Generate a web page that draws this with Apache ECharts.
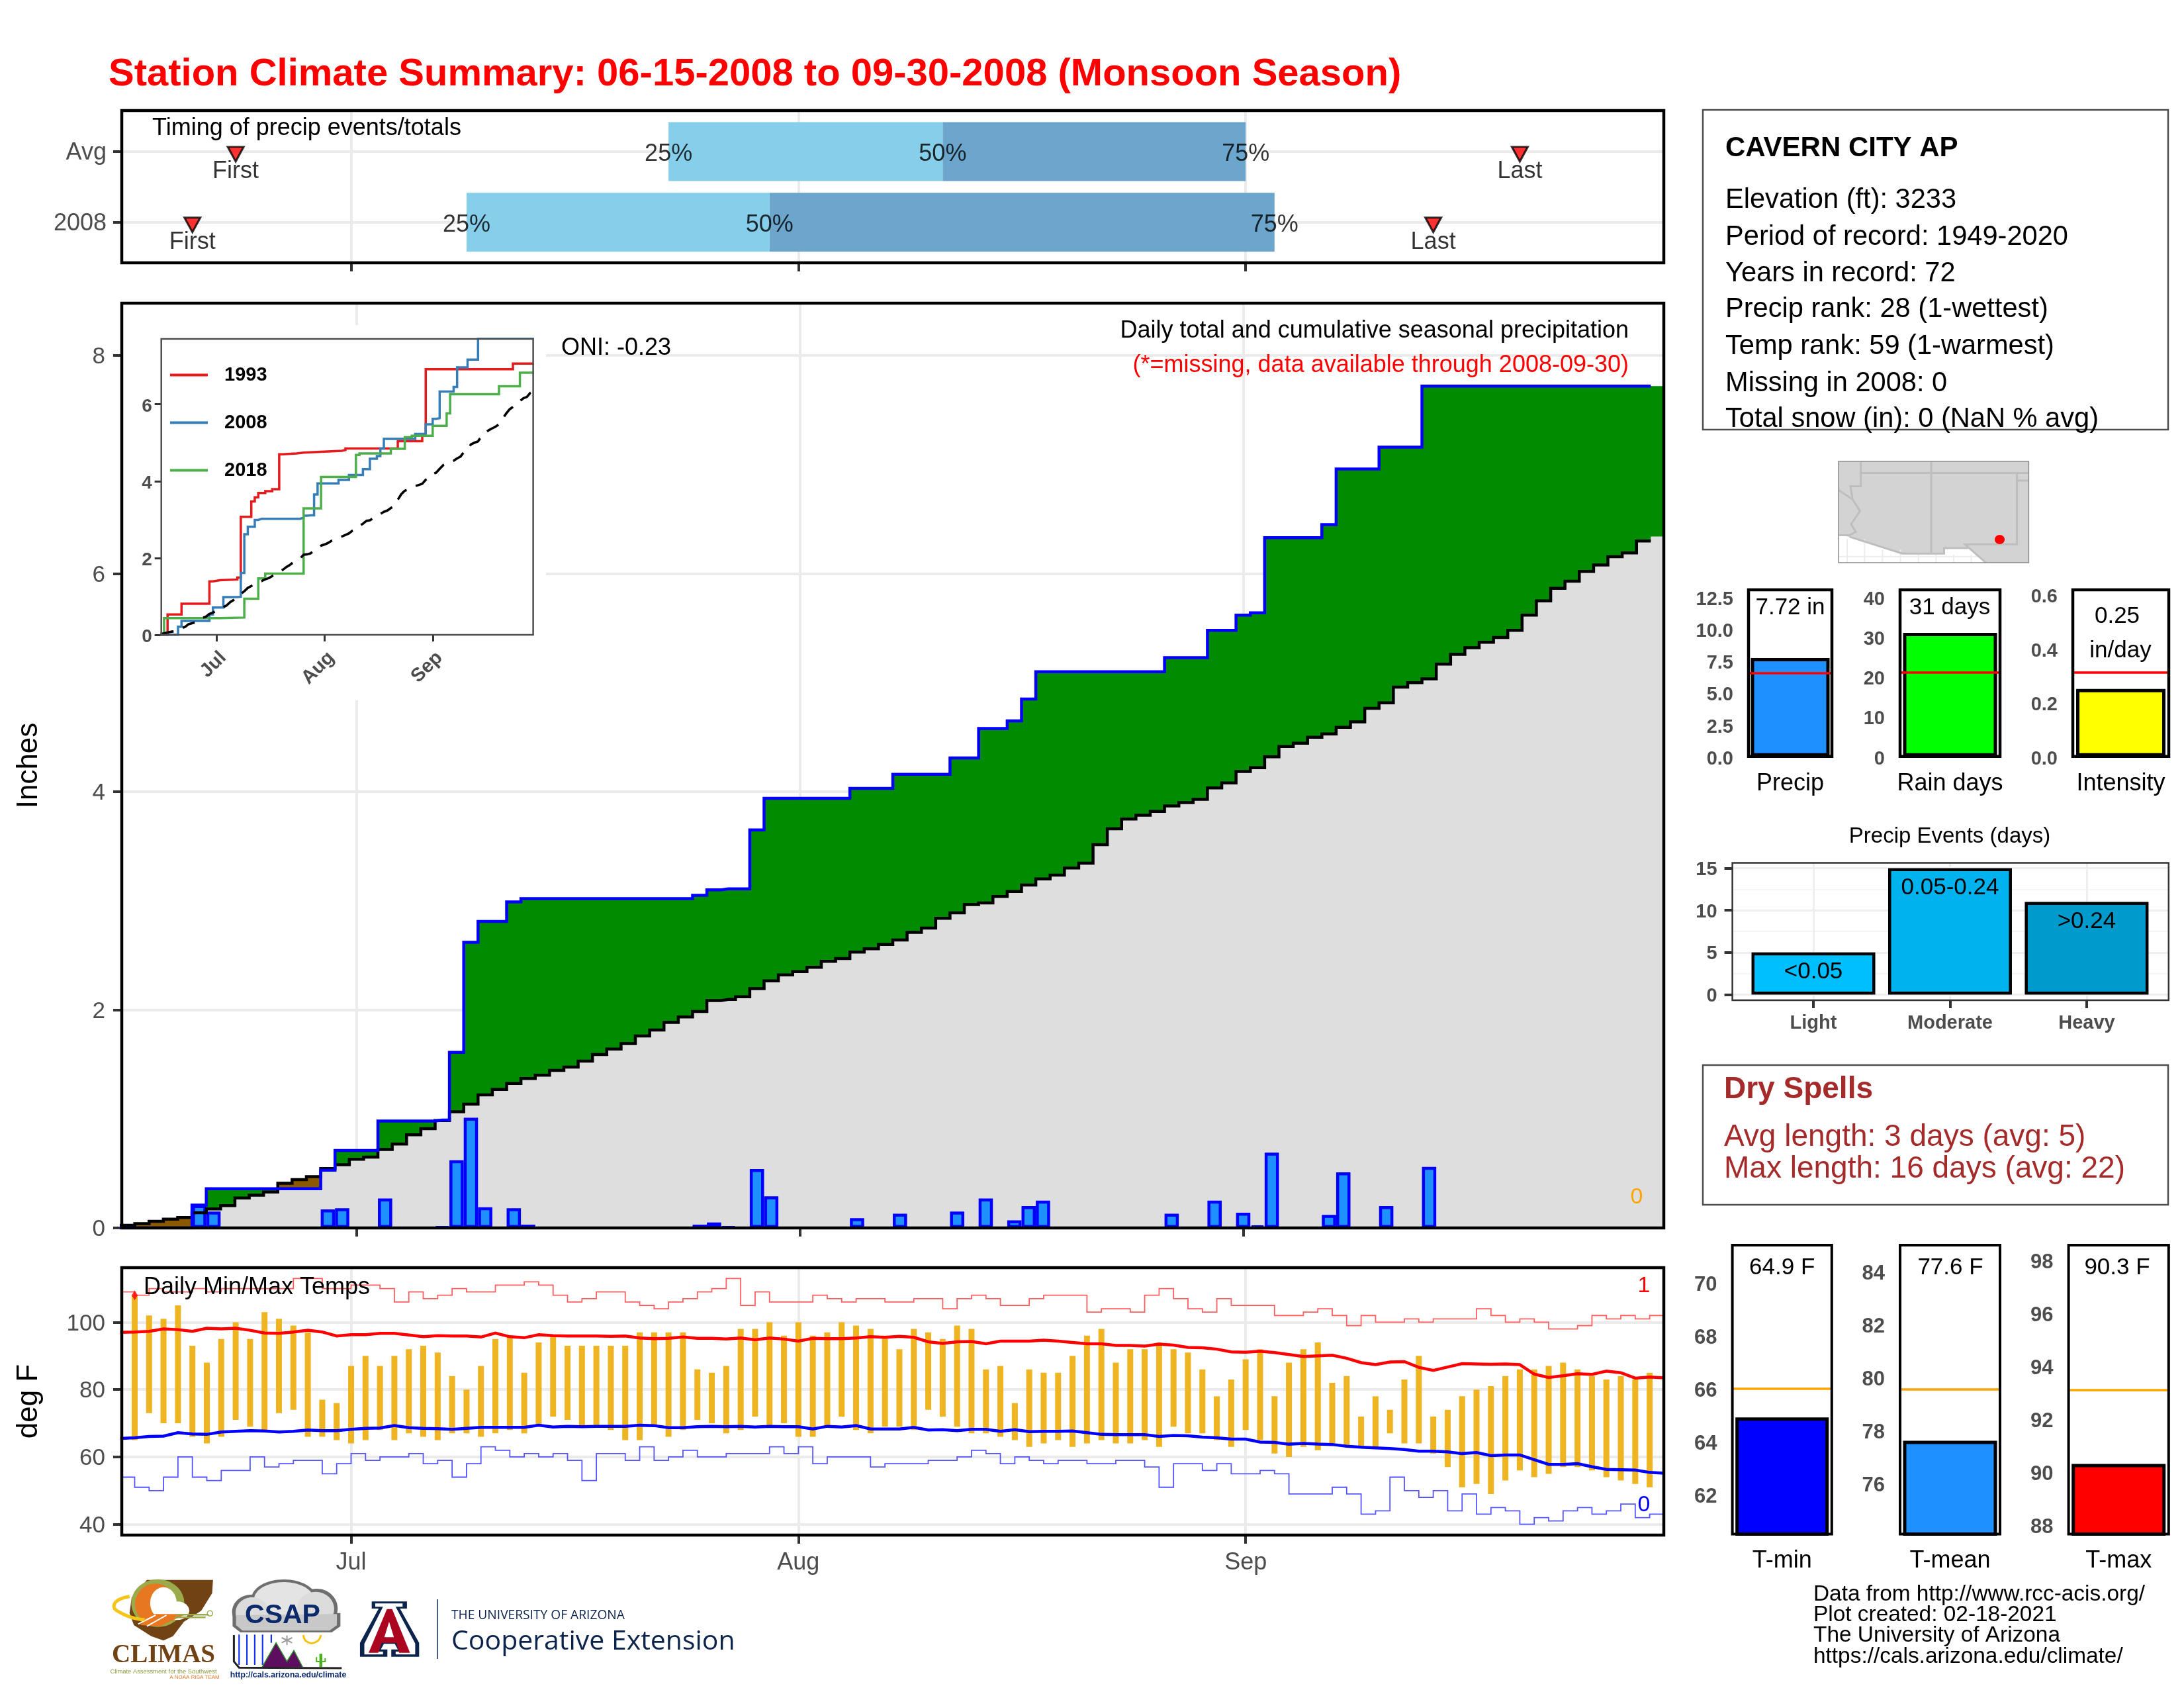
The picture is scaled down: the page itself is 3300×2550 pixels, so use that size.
<!DOCTYPE html>
<html>
<head>
<meta charset="utf-8">
<title>Station Climate Summary</title>
<script src="https://cdn.jsdelivr.net/npm/echarts@6/dist/echarts.min.js"></script>
<style>
  html, body { margin: 0; padding: 0; background: #fff; }
  #chart { width: 3300px; height: 2550px; }
</style>
</head>
<body>
<div id="chart"></div>
<script>
// day numbers count from Jun 15 = 0
const monthDays = [16, 47, 78]
const monthLabels = ['Jul', 'Aug', 'Sep']

// timing panel, rows bottom to top
const timingRows = ['2008', 'Avg']
const firstDay = [5, 8]
const lastDay = [91, 97]
const quart25 = [24, 38]
const quart50 = [45, 57]
const quart75 = [80, 78]

// daily precip (inches), only the wet days
const wetDays = [5, 6, 14, 15, 18, 22, 23, 24, 25, 27, 28, 40, 41, 42, 44, 45, 51, 54, 58, 60, 62, 63, 64, 73, 76, 78, 79, 80, 84, 85, 88, 91]
const wetAmounts = [0.21, 0.15, 0.17, 0.18, 0.27, 0.01, 0.62, 1.01, 0.19, 0.18, 0.03, 0.03, 0.05, 0.01, 0.54, 0.29, 0.09, 0.13, 0.15, 0.27, 0.07, 0.2, 0.25, 0.13, 0.25, 0.14, 0.02, 0.69, 0.12, 0.51, 0.2, 0.56]

// average cumulative precip, day 0 to 107
const avgCumPrecip = [
  0.025, 0.04, 0.06, 0.08, 0.095, 0.14, 0.175, 0.205, 0.275, 0.3,
  0.33, 0.41, 0.443, 0.47, 0.545, 0.58, 0.63, 0.65, 0.72, 0.77,
  0.855, 0.91, 0.985, 1.065, 1.135, 1.22, 1.27, 1.325, 1.37, 1.4,
  1.445, 1.475, 1.53, 1.59, 1.64, 1.69, 1.76, 1.815, 1.885, 1.935,
  1.985, 2.085, 2.095, 2.12, 2.195, 2.265, 2.32, 2.35, 2.39, 2.445,
  2.47, 2.53, 2.56, 2.6, 2.64, 2.71, 2.75, 2.84, 2.89, 2.965,
  2.98, 3.04, 3.085, 3.145, 3.2, 3.235, 3.3, 3.345, 3.515, 3.66,
  3.75, 3.785, 3.82, 3.87, 3.9, 3.93, 4.035, 4.08, 4.185, 4.22,
  4.32, 4.415, 4.445, 4.5, 4.53, 4.59, 4.64, 4.765, 4.815, 4.96,
  5, 5.035, 5.17, 5.26, 5.32, 5.37, 5.415, 5.48, 5.62, 5.75,
  5.865, 5.93, 6.02, 6.08, 6.155, 6.19, 6.3, 6.34
]

// inset comparison years
const years = ['1993', '2008', '2018']
const days1993 = [0, 2, 6, 14, 15, 17, 22, 23, 26, 27, 28, 30, 32, 34, 35, 39, 41, 48, 52, 53, 68, 75, 76, 101, 107]
const totals1993 = [0, 0.53, 0.81, 1.39, 1.42, 1.44, 1.49, 3.07, 3.47, 3.58, 3.69, 3.74, 3.79, 4.7, 4.72, 4.74, 4.77, 4.79, 4.81, 4.85, 5.04, 5.2, 6.91, 7.06, 7.06]
const days2018 = [0, 1, 17, 24, 28, 30, 41, 46, 56, 57, 66, 70, 72, 78, 82, 83, 97, 103, 107]
const totals2018 = [0, 0.435, 0.45, 0.94, 1.47, 1.595, 3.29, 4.11, 4.68, 4.72, 4.84, 5.14, 5.18, 5.44, 5.76, 6.26, 6.47, 6.82, 6.82]

// daily temps, day 1 to 106
const dailyTmax = [
  108, 102, 101, 105, 93, 88, 95, 100, 95, 103,
  101, 99, 97, 77, 76, 87, 90, 87, 90, 92,
  93, 91, 84, 80, 87, 95, 96, 85, 94, 96,
  93, 93, 93, 93, 93, 97, 97, 97, 97, 86,
  85, 87, 98, 98, 100, 96, 100, 96, 97, 100,
  99, 98, 96, 92, 98, 97, 95, 99, 98, 86,
  87, 76, 86, 85, 85, 90, 96, 98, 88, 92,
  92, 94, 92, 91, 86, 78, 83, 89, 92, 78,
  88, 92, 94, 82, 84, 72, 78, 74, 83, 90,
  72, 74, 78, 80, 81, 84, 86, 86, 87, 88,
  86, 84, 83, 84, 83, 85
]
const dailyTmin = [
  65, 73, 70, 70, 66, 64, 66, 71, 69, 68,
  73, 74, 66, 66, 65, 64, 65, 68, 65, 67,
  66, 65, 67, 67, 66, 67, 68, 67, 69, 72,
  71, 69, 69, 68, 65, 65, 69, 66, 68, 71,
  70, 67, 68, 72, 69, 70, 66, 66, 69, 72,
  68, 67, 69, 69, 68, 74, 72, 69, 67, 67,
  66, 65, 63, 64, 65, 63, 64, 65, 64, 64,
  65, 63, 69, 67, 67, 65, 63, 68, 65, 61,
  60, 63, 62, 64, 63, 63, 63, 67, 64, 64,
  61, 57, 51, 52, 49, 53, 56, 54, 55, 57,
  57, 56, 54, 53, 52, 51
]

// record high and low for each day, day 0 to 106
const recordMax = [
  109, 108, 110, 109, 109, 110, 109, 110, 110, 110,
  110, 110, 113, 113, 110, 110, 111, 111, 110, 106,
  109, 107, 108, 110, 109, 109, 111, 111, 112, 111,
  108, 106, 107, 109, 109, 106, 105, 104, 106, 107,
  109, 110, 113, 105, 109, 106, 106, 106, 108, 107,
  106, 107, 107, 106, 106, 107, 107, 104, 107, 108,
  107, 105, 105, 107, 108, 108, 108, 103, 104, 104,
  103, 108, 110, 107, 104, 103, 107, 105, 105, 105,
  102, 102, 103, 104, 102, 99, 102, 100, 100, 101,
  100, 101, 101, 101, 104, 102, 100, 101, 100, 98,
  98, 99, 102, 101, 102, 101, 102
]
const recordMin = [
  54, 51, 50, 54, 60, 54, 53, 56, 56, 60,
  57, 58, 59, 59, 55, 58, 61, 59, 60, 60,
  61, 58, 59, 54, 58, 63, 62, 60, 61, 60,
  61, 59, 53, 61, 61, 59, 63, 59, 60, 62,
  60, 60, 61, 61, 61, 63, 61, 63, 58, 60,
  60, 60, 57, 58, 58, 58, 59, 59, 60, 62,
  61, 58, 60, 59, 58, 59, 59, 58, 58, 59,
  59, 57, 51, 58, 58, 56, 58, 55, 55, 56,
  55, 49, 49, 49, 51, 49, 43, 44, 54, 50,
  48, 50, 44, 49, 43, 45, 44, 40, 42, 41,
  44, 45, 43, 44, 46, 42, 43
]

// long term daily means, day 0 to 107
const normalMax = [
  97, 97.1, 97.3, 98, 97.8, 97.3, 98.2, 98, 98.2, 97.6,
  96.8, 96.7, 97.1, 97.6, 97.1, 95.9, 96.3, 96.3, 96.7, 96.7,
  96.2, 95.7, 96, 95.9, 95.9, 95.6, 96.8, 95.7, 95.4, 96.3,
  96, 95.9, 95.9, 95.9, 95.8, 95.9, 95.3, 95.1, 95.2, 95.6,
  95.2, 95.2, 95, 95.3, 94.8, 95.3, 95, 94.4, 95.2, 95.1,
  95.1, 95.3, 95.7, 95.5, 95.8, 95.5, 94.2, 93.7, 94.2, 94.3,
  93.6, 94.4, 94.4, 94.4, 94.7, 94.4, 94, 93.6, 93.6, 93.1,
  93.1, 92.9, 93.5, 93.2, 92.5, 92.4, 92, 91.2, 91.1, 91.4,
  91, 90.4, 89.8, 90, 90.2, 89.3, 88, 87.4, 88.2, 88.3,
  86.6, 85.7, 86.7, 87.7, 87.6, 87.5, 87.6, 87.4, 84.6, 83.6,
  84.1, 84.7, 84.5, 85.5, 85, 83.4, 83.7, 83.5
]
const normalMin = [
  65.5, 65.7, 66.1, 66.2, 67.2, 66.8, 66.7, 67.4, 67.6, 67.8,
  67.7, 67.4, 67.6, 68, 67.8, 67.8, 68.2, 68.5, 68.6, 69.3,
  68.7, 68.5, 68.4, 68.2, 68.5, 68.8, 68.8, 68.8, 68.8, 69.4,
  68.9, 69.1, 69, 69.1, 69.1, 69.1, 69.4, 69.3, 68.7, 68.7,
  69, 69.1, 69, 69.1, 68.9, 69.1, 69, 69, 68.3, 69.1,
  68.9, 69.3, 68.3, 68.3, 68.3, 68.8, 68, 68.1, 67.8, 68.2,
  68.2, 67.6, 68.1, 67.5, 67.6, 67.6, 67.7, 67.2, 66.7, 66.6,
  66.6, 66.6, 66.1, 66.4, 66.3, 65.9, 65.7, 65.3, 65.3, 64.4,
  64.3, 63.8, 64, 63.8, 63.7, 63.2, 62.9, 62.7, 62.5, 62.2,
  61.7, 61.7, 61.5, 61, 61.3, 60.4, 60.6, 60.6, 59.2, 57.8,
  57.8, 58, 57.1, 56.3, 56.2, 56.1, 55.4, 55.2
]

// side panels
const precipNames = ['Precip', 'Rain days', 'Intensity']
const precipValues = [7.72, 31, 0.25]
const precipAverages = [6.56, 21, 0.31]
const precipLabels = ['7.72 in', '31 days', '0.25']
const eventNames = ['Light', 'Moderate', 'Heavy']
const eventCounts = [5, 15, 11]
const eventLabels = ['<0.05', '0.05-0.24', '>0.24']
const tempNames = ['T-min', 'T-mean', 'T-max']
const tempValues = [64.9, 77.6, 90.3]
const tempAverages = [65.98, 79.55, 93.1]
const tempLabels = ['64.9 F', '77.6 F', '90.3 F']
const stationLines = ['Elevation (ft): 3233', 'Period of record: 1949-2020', 'Years in record: 72', 'Precip rank: 28 (1-wettest)', 'Temp rank: 59 (1-warmest)', 'Missing in 2008: 0', 'Total snow (in): 0 (NaN % avg)']
const creditLines = ['Data from http://www.rcc-acis.org/', 'Plot created: 02-18-2021', 'The University of Arizona', 'https://cals.arizona.edu/climate/']

const FONT = '"Liberation Sans", Arial, sans-serif'
const GREY = '#4D4D4D'
const GRID_LINE = '#EBEBEB'

// build series data
const allDays = avgCumPrecip.map((_, d) => d)
let running = 0
const cumPrecip = allDays.map(d => {
  const i = wetDays.indexOf(d)
  if (i >= 0) running += wetAmounts[i]
  return +running.toFixed(2)
})
const pairs = (days, values) => days.map((d, i) => [d, values[i]])
const padded = values => [[-1, values[0]], ...values.map((v, d) => [d, v]), [108, values[values.length - 1]]]
const lowerFill = cumPrecip.map((c, d) => Math.min(c, avgCumPrecip[d]))
// the two step lines stop half a day before the end
const lineToEnd = values => [[-1, values[0]], ...values.slice(0, 107).map((v, d) => [d, v]), [106.5, values[106]]]
const withEnd = values => [...values.map((v, d) => [d, v]), [107, values[values.length - 1]]]

// an empty first line with a small lineHeight pushes a tick label down by lineHeight / 2
const nudged = (fmt = v => v) => v => '\n' + fmt(v)

const dayAxis = (gridIndex, min, max, extra = {}) => ({
  type: 'value', gridIndex, min, max,
  axisLine: { show: false, onZero: false },
  axisTick: { length: 13, customValues: monthDays, lineStyle: { color: '#333', width: 4 } },
  axisLabel: { show: false, customValues: monthDays, formatter: v => monthLabels[monthDays.indexOf(v)], color: GREY, fontFamily: FONT, fontSize: 35, margin: 24 },
  splitLine: { show: true, lineStyle: { color: GRID_LINE, width: 4 } },
  ...extra
})
const valueAxis = (gridIndex, min, max, ticks, extra = {}) => ({
  type: 'value', gridIndex, min, max,
  axisLine: { show: false, onZero: false },
  axisTick: { length: 13, customValues: ticks, lineStyle: { color: '#333', width: 4 } },
  axisLabel: { customValues: ticks, formatter: nudged(), lineHeight: 5, color: GREY, fontFamily: FONT, fontSize: 35, margin: 25 },
  splitLine: { show: true, lineStyle: { color: GRID_LINE, width: 4 } },
  ...extra
})
const line = (name, xAxisIndex, data, color, width, step, z, extra = {}) => ({
  name, type: 'line', xAxisIndex, yAxisIndex: xAxisIndex, data, step, z,
  showSymbol: false, symbol: 'none', silent: true,
  lineStyle: { color, width, join: 'miter' }, itemStyle: { color },
  ...extra
})
// areas are painted over each other, higher layers last
const areaLayer = (name, data, color) => ({
  name, type: 'line', xAxisIndex: 1, yAxisIndex: 1, data, step: 'middle', z: 2,
  showSymbol: false, symbol: 'none', silent: true,
  lineStyle: { width: 0 }, areaStyle: { color, opacity: 1 }
})

const grids = []
const xAxes = []
const yAxes = []
const series = []
const addGrid = (left, top, width, height) => grids.push({ left, top, width, height, show: false, outerBoundsMode: 'none' })

// 0: timing panel
addGrid(184, 167, 2330, 230)
xAxes.push(dayAxis(0, 0.106, 106.98))
yAxes.push(valueAxis(0, -0.574, 1.58, [0, 1], {
  axisLabel: { customValues: [0, 1], formatter: nudged(v => timingRows[v]), lineHeight: 5, color: GREY, fontFamily: FONT, fontSize: 36, margin: 23 }
}))
const timingBar = (data, color) => ({
  type: 'custom', xAxisIndex: 0, yAxisIndex: 0, data, z: 3, silent: true,
  encode: { x: [0, 1], y: 2 },
  renderItem: (params, api) => {
    const a = api.coord([api.value(0), api.value(2)])
    const b = api.coord([api.value(1), api.value(2)])
    return { type: 'rect', shape: { x: a[0], y: a[1] - 44.5, width: b[0] - a[0], height: 89 }, style: { fill: color } }
  }
})
series.push(timingBar(timingRows.map((_, i) => [quart25[i], quart50[i], i]), '#87CEEB'))
series.push(timingBar(timingRows.map((_, i) => [quart50[i], quart75[i], i]), '#6CA6CD'))
const timingText = (quarts, text) => ({
  type: 'scatter', xAxisIndex: 0, yAxisIndex: 0, z: 5, silent: true, symbolSize: 1,
  itemStyle: { color: 'transparent' },
  data: quarts.map((d, i) => [d, i]),
  label: { show: true, position: 'inside', formatter: text, color: '#000', fontFamily: FONT, fontSize: 36, offset: [0, 4] }
})
series.push(timingText(quart25, '25%'), timingText(quart50, '50%'), timingText(quart75, '75%'))
const timingMark = (days, text) => ({
  type: 'scatter', xAxisIndex: 0, yAxisIndex: 0, z: 5, silent: true,
  symbol: 'triangle', symbolRotate: 180, symbolSize: [24, 22], symbolOffset: [0, 4],
  itemStyle: { color: '#FF0000', borderColor: '#000', borderWidth: 3 },
  data: days.map((d, i) => [d, i]),
  label: { show: true, position: 'bottom', distance: -4, formatter: text, color: '#000', fontFamily: FONT, fontSize: 36 }
})
series.push(timingMark(firstDay, 'First'), timingMark(lastDay, 'Last'))

// 1: main precip panel
addGrid(184, 458, 2330, 1397)
xAxes.push(dayAxis(1, -0.41, 107.41))
yAxes.push(valueAxis(1, 0, 8.48, [0, 2, 4, 6, 8], {
  name: 'Inches', nameLocation: 'middle', nameRotate: 90, nameGap: 118,
  nameTextStyle: { color: '#000', fontFamily: FONT, fontSize: 44 }
}))
series.push(areaLayer('dryFill', padded(avgCumPrecip), '#8B5A00'))
series.push(areaLayer('wetFill', padded(cumPrecip), '#008B00'))
series.push(areaLayer('normalFill', padded(lowerFill), '#DEDEDE'))
series.push({
  type: 'bar', xAxisIndex: 1, yAxisIndex: 1, data: pairs(wetDays, wetAmounts), barWidth: 21.6, z: 3, silent: true,
  itemStyle: { color: '#1E90FF', borderColor: '#0000FF', borderWidth: 4.5 }
})
series.push(line('avg', 1, lineToEnd(avgCumPrecip), '#000', 4.5, 'middle', 4))
series.push(line('cum', 1, lineToEnd(cumPrecip), '#0000FF', 4.5, 'middle', 5))

// 2: temperature panel
addGrid(184, 1915, 2330, 404)
xAxes.push(dayAxis(2, 0.106, 106.98, {
  axisLabel: { show: true, customValues: monthDays, formatter: v => monthLabels[monthDays.indexOf(v)], color: GREY, fontFamily: FONT, fontSize: 36, margin: 24 }
}))
yAxes.push(valueAxis(2, 36.8, 116.2, [40, 60, 80, 100], {
  name: 'deg F', nameLocation: 'middle', nameRotate: 90, nameGap: 118,
  nameTextStyle: { color: '#000', fontFamily: FONT, fontSize: 44 }
}))
series.push({
  type: 'custom', xAxisIndex: 2, yAxisIndex: 2, z: 3, silent: true,
  data: dailyTmax.map((t, i) => [i + 1, dailyTmin[i], t]),
  encode: { x: 0, y: [1, 2] },
  renderItem: (params, api) => {
    const lo = api.coord([api.value(0), api.value(1)])
    const hi = api.coord([api.value(0), api.value(2)])
    return { type: 'rect', shape: { x: lo[0] - 4.5, y: hi[1], width: 9, height: lo[1] - hi[1] }, style: { fill: '#EEB422' } }
  }
})
series.push(line('recMax', 2, withEnd(recordMax), '#FF5F5F', 1.8, 'end', 4))
series.push(line('recMin', 2, withEnd(recordMin), '#5555FF', 1.8, 'end', 4))
series.push(line('normMax', 2, normalMax.map((v, d) => [d, v]), '#FF0000', 4.5, false, 5))
series.push(line('normMin', 2, normalMin.map((v, d) => [d, v]), '#0000FF', 4.5, false, 5))
series.push({
  type: 'scatter', xAxisIndex: 2, yAxisIndex: 2, z: 6, silent: true, symbol: 'diamond', symbolSize: [9, 15],
  itemStyle: { color: '#FF0000' }, data: [[1, dailyTmax[0]]]
})

// 3: inset with comparison years
addGrid(243.7, 512, 561.9, 447)
const insetLabels = { fontWeight: 'bold', fontFamily: FONT, color: GREY }
xAxes.push({
  type: 'value', gridIndex: 3, min: 0.2, max: 106.8, z: 3,
  axisLine: { show: false, onZero: false }, splitLine: { show: false },
  axisTick: { length: 10, customValues: monthDays, lineStyle: { color: '#333', width: 3 } },
  axisLabel: { ...insetLabels, fontSize: 29, customValues: monthDays, formatter: v => monthLabels[monthDays.indexOf(v)], rotate: 45, margin: 20, verticalAlign: 'top' }
})
yAxes.push({
  type: 'value', gridIndex: 3, min: 0, max: 7.7, z: 3,
  axisLine: { show: false, onZero: false }, splitLine: { show: false },
  axisTick: { length: 10, customValues: [0, 2, 4, 6], lineStyle: { color: '#333', width: 3 } },
  axisLabel: { ...insetLabels, fontSize: 28, customValues: [0, 2, 4, 6], formatter: nudged(), lineHeight: 7, margin: 14 }
})
series.push(line(years[0], 3, pairs(days1993, totals1993), '#E41A1C', 3.5, 'end', 7))
series.push(line(years[1], 3, withEnd(cumPrecip.slice(0, 107)), '#377EB8', 3.5, 'end', 8))
series.push(line(years[2], 3, pairs(days2018, totals2018), '#4DAF4A', 3.5, 'end', 9))
series.push(line('insetAvg', 3, avgCumPrecip.map((v, d) => [d, v]), '#000', 3.6, false, 10, {
  lineStyle: { color: '#000', width: 3.6, type: [20, 15] }
}))

// 4-6: precip summary bars, 7-9: temperature summary bars
const oneBar = (index, left, width, top, height, min, max, ticks, barWidth, name, value, avg, fill, avgColor, fmt, tickFont = 29) => {
  addGrid(left, top, width, height)
  xAxes.push({
    type: 'category', gridIndex: index, data: [name],
    axisLine: { show: false, onZero: false }, axisTick: { show: false }, splitLine: { show: false },
    axisLabel: { color: '#000', fontFamily: FONT, fontSize: 36, margin: 23 }
  })
  yAxes.push({
    type: 'value', gridIndex: index, min, max,
    axisLine: { show: false, onZero: false }, splitLine: { show: false },
    axisTick: { length: 12, customValues: ticks, lineStyle: { color: '#333', width: 4 } },
    axisLabel: { customValues: ticks, formatter: nudged(fmt), lineHeight: 8, color: GREY, fontFamily: FONT, fontWeight: 'bold', fontSize: tickFont, margin: 23 }
  })
  series.push({
    type: 'bar', xAxisIndex: index, yAxisIndex: index, data: [value], barWidth, z: 3, silent: true,
    itemStyle: { color: fill, borderColor: '#000', borderWidth: 5 },
    markLine: {
      silent: true, symbol: 'none', animation: false, label: { show: false },
      lineStyle: { color: avgColor, width: 3.5, type: 'solid' },
      data: [{ yAxis: avg }]
    }
  })
}
oneBar(4, 2642, 126, 891, 251.7, 0, 13.07, [0, 2.5, 5, 7.5, 10, 12.5], 119, precipNames[0], precipValues[0], precipAverages[0], '#1E90FF', '#FF0000', v => v.toFixed(1))
oneBar(5, 2871, 151, 891, 251.7, 0, 41.8, [0, 10, 20, 30, 40], 142, precipNames[1], precipValues[1], precipAverages[1], '#00FF00', '#FF0000', v => v)
oneBar(6, 3132, 145, 891, 251.7, 0, 0.617, [0, 0.2, 0.4, 0.6], 135, precipNames[2], precipValues[2], precipAverages[2], '#FFFF00', '#FF0000', v => v.toFixed(1))
oneBar(7, 2617.6, 150.2, 1881, 436.4, 60.5, 71.4, [62, 64, 66, 68, 70], 141, tempNames[0], tempValues[0], tempAverages[0], '#0000FF', '#FFA500', v => v, 31)
oneBar(8, 2871, 151, 1881, 436.4, 74.08, 84.99, [76, 78, 80, 82, 84], 142, tempNames[1], tempValues[1], tempAverages[1], '#1E90FF', '#FFA500', v => v, 31)
oneBar(9, 3125.6, 151.2, 1881, 436.4, 87.65, 98.57, [88, 90, 92, 94, 96, 98], 142, tempNames[2], tempValues[2], tempAverages[2], '#FF0000', '#FFA500', v => v, 31)

// 10: precip events
addGrid(2617.6, 1303.4, 659.2, 207.6)
const eventSpots = [1, 2, 3]
xAxes.push({
  type: 'value', gridIndex: 10, min: 0.407, max: 3.6,
  axisLine: { show: false, onZero: false },
  axisTick: { length: 12, customValues: eventSpots, lineStyle: { color: '#333', width: 4 } },
  axisLabel: { customValues: eventSpots, formatter: v => eventNames[v - 1], color: GREY, fontFamily: FONT, fontWeight: 'bold', fontSize: 29, margin: 20 },
  splitLine: { show: true, lineStyle: { color: '#EEEEEE', width: 3 } }
})
yAxes.push({
  type: 'value', gridIndex: 10, min: -0.66, max: 15.63,
  axisLine: { show: false, onZero: false },
  axisTick: { length: 12, customValues: [0, 5, 10, 15], lineStyle: { color: '#333', width: 4 } },
  axisLabel: { customValues: [0, 5, 10, 15], formatter: nudged(), lineHeight: 5, color: GREY, fontFamily: FONT, fontWeight: 'bold', fontSize: 29, margin: 23 },
  splitLine: { show: true, lineStyle: { color: '#EEEEEE', width: 3 } }
})
// thin minor gridlines on a second axis
yAxes.push({
  type: 'value', gridIndex: 10, min: -0.66, max: 15.63,
  axisLine: { show: false, onZero: false }, axisLabel: { show: false },
  axisTick: { show: false, customValues: [2.5, 7.5, 12.5] },
  splitLine: { show: true, lineStyle: { color: '#F2F2F2', width: 1.5 } }
})
const eventFills = ['#00BFFF', '#00B2EE', '#009ACD']
series.push({
  type: 'bar', xAxisIndex: 10, yAxisIndex: 10, barWidth: 187, z: 3, silent: true,
  data: eventCounts.map((c, i) => ({ value: [i + 1, c], itemStyle: { color: eventFills[i] } })),
  itemStyle: { borderColor: '#000', borderWidth: 4.5 },
  label: { show: true, position: 'insideTop', distance: 12, formatter: p => eventLabels[p.dataIndex], color: '#000', fontFamily: FONT, fontSize: 35 }
})

// page furniture drawn by hand
const g = []
const text = (str, x, y, fontSize, opts = {}) => g.push({
  type: 'text', x, y: y + 3, z: opts.z || 70, silent: true,
  style: { text: str, fontSize, fontFamily: opts.family || FONT, fontWeight: opts.weight || 'normal', fill: opts.color || '#000', textAlign: opts.align || 'left', textVerticalAlign: 'middle' }
})
const frame = (x, y, width, height, lineWidth, stroke = '#000', z = 60) => g.push({
  type: 'rect', z, silent: true, shape: { x, y, width, height }, style: { fill: 'none', stroke, lineWidth }
})

text('Station Climate Summary: 06-15-2008 to 09-30-2008 (Monsoon Season)', 164, 110, 58, { weight: 'bold', color: '#FF0000' })

frame(184, 167, 2330, 230, 4.5)
frame(184, 458, 2330, 1397, 4.5)
frame(184, 1915, 2330, 404, 4.5)
text('Timing of precip events/totals', 230, 191, 36)
text('ONI: -0.23', 848, 523, 36)
text('Daily total and cumulative seasonal precipitation', 2461, 497, 36, { align: 'right' })
text('(*=missing, data available through 2008-09-30)', 2461, 549, 36, { align: 'right', color: '#FF0000' })
text('0', 2473, 1806, 34, { align: 'center', color: '#FFA500' })
text('Daily Min/Max Temps', 217, 1942, 36)
text('1', 2484, 1940, 34, { align: 'center', color: '#FF0000' })
text('0', 2484, 2271, 34, { align: 'center', color: '#0000FF' })

// white plate under the inset hides the main gridlines
g.push({ type: 'rect', z: 1, silent: true, shape: { x: 186, y: 491, width: 639, height: 567 }, style: { fill: '#fff' } })
frame(243.7, 512, 561.9, 447, 2.5, GREY)

// station box
frame(2573, 166, 703, 483, 2.5, GREY)
text('CAVERN CITY AP', 2607, 221, 42, { weight: 'bold' })
const stationY = [300, 356, 411, 465, 521, 577, 631]
stationLines.forEach((s, i) => text(s, 2607, stationY[i], 41.6))

// map inset
const mp = (x, y) => [2540 + x / 2.063, 680 + y / 1.742]
const mapPoly = (pts, style) => g.push({ type: 'polygon', z: 20, silent: true, shape: { points: pts.map(p => mp(p[0], p[1])) }, style })
const mapLine = (pts, stroke, lineWidth) => g.push({ type: 'polyline', z: 21, silent: true, shape: { points: pts.map(p => mp(p[0], p[1])) }, style: { fill: 'none', stroke, lineWidth } })
mapPoly([[491, 30], [1084, 30], [1084, 296], [950, 296], [895, 258], [820, 258], [820, 272], [690, 272], [525, 228], [491, 224]], { fill: '#D3D3D3' })
;[518, 572, 628, 684, 740, 795, 850, 905].forEach(x => mapLine([[x, x < 600 ? 234 : x < 700 ? 262 : 275], [x, 296]], '#EDEDED', 2))
;[280].forEach(y => mapLine([[491, y], [930, y]], '#EDEDED', 2))
const border = '#BEBEBE'
mapLine([[780, 30], [780, 270]], border, 3)
mapLine([[560, 30], [560, 60], [1084, 60]], border, 3)
mapLine([[560, 60], [560, 95], [528, 95], [535, 130], [558, 160], [530, 195], [545, 215], [525, 224], [491, 224]], border, 3)
mapLine([[491, 105], [535, 130]], border, 3)
mapLine([[1047, 60], [1047, 248], [885, 248], [950, 296]], border, 3)
mapLine([[1047, 80], [1084, 80]], border, 3)
mapLine([[525, 228], [690, 272], [820, 272], [820, 258], [895, 258]], border, 3)
frame(2778, 697, 287.4, 153, 1.5, '#8C8C8C', 22)
g.push({ type: 'ellipse', z: 23, silent: true, shape: { cx: 3021.5, cy: 815, rx: 7.5, ry: 7 }, style: { fill: '#FF0000' } })

// labels inside the summary bars
text(precipLabels[0], 2705, 915, 35, { align: 'center' })
text(precipLabels[1], 2946, 915, 35, { align: 'center' })
text(precipLabels[2], 3199, 928, 35, { align: 'center' })
text('in/day', 3204, 980, 35, { align: 'center' })
frame(2642, 891, 126, 251.7, 4.5)
frame(2871, 891, 151, 251.7, 4.5)
frame(3132, 891, 145, 251.7, 4.5)
text('Precip Events (days)', 2946, 1261, 33, { align: 'center' })
frame(2617.6, 1303.4, 659.2, 207.6, 2.5, '#333')

// dry spells
frame(2573, 1609, 703, 211, 2.5, GREY)
text('Dry Spells', 2605, 1643, 46, { weight: 'bold', color: '#A52A2A' })
text('Avg length: 3 days (avg: 5)', 2605, 1715, 46, { color: '#A52A2A' })
text('Max length: 16 days (avg: 22)', 2605, 1763, 46, { color: '#A52A2A' })

// temperature bars
text(tempLabels[0], 2692.7, 1912, 35, { align: 'center' })
text(tempLabels[1], 2947, 1912, 35, { align: 'center' })
text(tempLabels[2], 3199, 1912, 35, { align: 'center' })
frame(2617.6, 1881, 150.2, 436.4, 4)
frame(2871, 1881, 151, 436.4, 4)
frame(3125.6, 1881, 151.2, 436.4, 4)

const creditY = [2406, 2437, 2468, 2500]
creditLines.forEach((s, i) => text(s, 2740, creditY[i], 33.4))

// logos, rough redraw in zoomed coordinates
const lp = (x, y) => [130 + x / 1.522, 2340 + y / 3]
const poly = (pts, fill, z = 30) => g.push({ type: 'polygon', z, silent: true, shape: { points: pts.map(p => lp(p[0], p[1])) }, style: { fill } })
const pline = (pts, stroke, lineWidth, z = 33, smooth = 0) => g.push({ type: 'polyline', z, silent: true, shape: { points: pts.map(p => lp(p[0], p[1])), smooth }, style: { fill: 'none', stroke, lineWidth } })
const oval = (x, y, rx, ry, fill, z = 31, stroke = null, lineWidth = 0) => {
  const c = lp(x, y)
  g.push({ type: 'ellipse', z, silent: true, shape: { cx: c[0], cy: c[1], rx, ry }, style: { fill, stroke, lineWidth } })
}
// CLIMAS
poly([[140, 140], [292, 140], [290, 200], [265, 280], [225, 330], [200, 395], [178, 415], [150, 395], [110, 345], [100, 290], [105, 220]], '#704214')
oval(165, 245, 40, 36, '#9BAA4A', 31)
oval(160, 250, 31, 31, '#E87722', 32)
oval(178, 245, 20, 24, '#fff', 33)
oval(210, 280, 18, 14, '#fff', 33)
poly([[140, 295], [230, 295], [170, 350], [125, 345]], '#E87722', 34)
pline([[120, 340], [160, 300]], '#fff', 2, 35)
pline([[140, 350], [185, 300]], '#fff', 2, 35)
pline([[100, 215], [65, 250], [85, 295], [135, 320]], '#F5C518', 5, 35, 0.6)
pline([[205, 298], [282, 298]], '#9BAA4A', 2.5, 35)
pline([[205, 310], [275, 310]], '#9BAA4A', 2.5, 35)
oval(285, 292, 4, 4, 'none', 35, '#9BAA4A', 1.5)
text('CLIMAS', 247, 2498, 39, { family: '"Liberation Serif", serif', weight: 'bold', color: '#704214', align: 'center', z: 36 })
text('Climate Assessment for the Southwest', 247, 2522, 9.4, { color: '#8A9A3B', align: 'center', z: 36 })
text('A NOAA RISA TEAM', 294, 2531, 8, { color: '#E87722', align: 'center', z: 36 })
// CSAP
oval(455, 225, 49, 29, '#6E6E6E', 30)
oval(380, 285, 29, 26, '#6E6E6E', 30)
oval(530, 270, 32, 30, '#6E6E6E', 30)
poly([[337, 300], [585, 290], [585, 350], [565, 378], [355, 378], [337, 350]], '#6E6E6E', 30)
oval(455, 228, 45, 26, '#E4E4E4', 31)
oval(382, 288, 25, 23, '#DCDCDC', 31)
oval(528, 272, 28, 26, '#DCDCDC', 31)
poly([[345, 300], [577, 295], [577, 345], [560, 370], [360, 370], [345, 345]], '#C8C8C8', 32)
text('CSAP', 427, 2438, 41, { weight: 'bold', color: '#0C2A6B', align: 'center', z: 36 })
;[352, 370, 388, 406, 426].forEach(x => pline([[x, 388], [x, x > 410 ? 425 : 525]], '#1133EE', 2.2))
pline([[340, 390], [340, 510], [352, 538], [588, 540]], '#222', 3)
poly([[405, 535], [437, 425], [462, 510], [478, 460], [498, 535]], '#5E0E5E', 33)
pline([[405, 535], [437, 425], [462, 510], [478, 460], [498, 535]], '#2E8B2E', 1.5, 34)
pline([[540, 535], [540, 475]], '#4CAF1F', 4.5)
pline([[530, 490], [530, 510], [550, 510], [550, 495]], '#4CAF1F', 2)
pline([[500, 390], [508, 420], [530, 420], [540, 390]], '#F4C20D', 3, 33, 0.6)
pline([[462, 392], [462, 435]], '#9A9A9A', 2)
pline([[450, 402], [474, 425]], '#9A9A9A', 2)
pline([[474, 402], [450, 425]], '#9A9A9A', 2)
text('http://cals.arizona.edu/climate', 435.5, 2528, 12.3, { weight: 'bold', color: '#0C2A6B', align: 'center', z: 36 })
// block A
poly([[657, 238], [738, 238], [738, 270], [722, 270], [766, 425], [766, 488], [702, 488], [702, 455], [717, 455], [710, 430], [685, 430], [678, 455], [693, 455], [693, 488], [630, 488], [630, 425], [673, 270], [657, 270]], '#0C234B', 30)
poly([[665, 247], [728, 247], [728, 262], [712, 262], [757, 428], [757, 478], [712, 478], [712, 465], [727, 465], [716, 420], [678, 420], [668, 465], [683, 465], [683, 478], [640, 478], [640, 430], [683, 262], [665, 262]], '#fff', 31)
poly([[692, 272], [704, 272], [745, 470], [720, 470], [714, 425], [680, 425], [672, 470], [650, 470]], '#AB0520', 32)
poly([[697, 330], [708, 400], [686, 400]], '#fff', 33)
pline([[808, 228], [808, 498]], '#0C234B', 1.5)
text('THE UNIVERSITY OF ARIZONA', 682, 2438, 19.2, { family: '"Open Sans", sans-serif', color: '#0C234B', z: 36 })
text('Cooperative Extension', 682, 2477, 41, { family: '"Open Sans", sans-serif', color: '#0C234B', z: 36 })

const chart = echarts.init(document.getElementById('chart'), null, { renderer: 'canvas' })
chart.setOption({
  animation: false,
  backgroundColor: '#fff',
  textStyle: { fontFamily: FONT },
  legend: {
    data: years, orient: 'vertical', left: 257, top: 552, z: 12, selectedMode: false,
    itemWidth: 57, itemHeight: 4, itemGap: 43, padding: 0, icon: 'rect',
    textStyle: { color: '#000', fontFamily: FONT, fontWeight: 'bold', fontSize: 29, padding: [0, 0, 0, 20] }
  },
  grid: grids,
  xAxis: xAxes,
  yAxis: yAxes,
  series,
  graphic: { elements: g }
})
</script>
</body>
</html>
